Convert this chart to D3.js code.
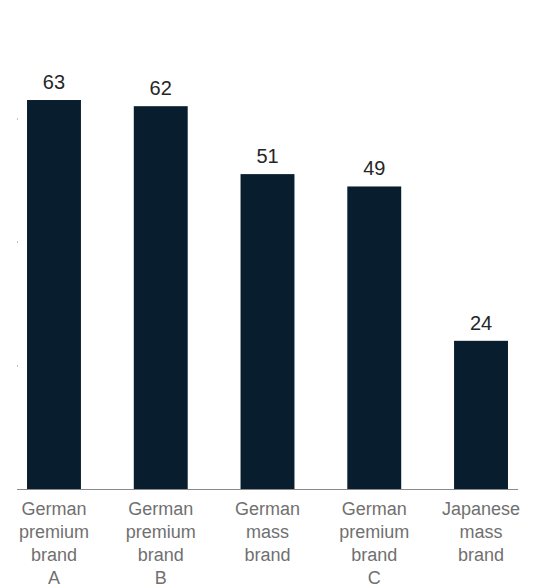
<!DOCTYPE html>
<html>
<head>
<meta charset="utf-8">
<script src="https://cdn.jsdelivr.net/npm/d3@7"></script>
<style>
  html, body { margin: 0; padding: 0; background: #fff; }
  svg { display: block; }
</style>
</head>
<body>
<svg id="chart" width="534" height="585"></svg>
<script>
// Brand categories (multi-line labels) and their values
const categories = [
  ["German", "premium", "brand", "A"],
  ["German", "premium", "brand", "B"],
  ["German", "mass", "brand"],
  ["German", "premium", "brand", "C"],
  ["Japanese", "mass", "brand"]
];
const values = [63, 62, 51, 49, 24];
const tickValues = [20, 40, 60];

const svg = d3.select("#chart");
const keys = categories.map(c => c.join(" "));

const x = d3.scaleBand()
  .domain(keys)
  .range([17, 518])
  .paddingInner(0.495)
  .paddingOuter(0.094);

const y = d3.scaleLinear()
  .domain([0, 70])
  .range([489, 56.8]);

// Tiny tick marks on the left edge
svg.append("g")
  .selectAll("rect")
  .data(tickValues)
  .join("rect")
  .attr("x", 17)
  .attr("y", d => Math.round(y(d)) - 0.5)
  .attr("width", 1)
  .attr("height", 1)
  .attr("fill", "#888");

// Bars
svg.append("g")
  .selectAll("rect")
  .data(values)
  .join("rect")
  .attr("x", (d, i) => x(keys[i]))
  .attr("y", d => y(d))
  .attr("width", x.bandwidth())
  .attr("height", d => y(0) - y(d))
  .attr("fill", "#081d2d");

// Value labels above bars
svg.append("g")
  .selectAll("text")
  .data(values)
  .join("text")
  .attr("x", (d, i) => x(keys[i]) + x.bandwidth() / 2)
  .attr("y", d => y(d) - 11)
  .attr("text-anchor", "middle")
  .attr("font-family", "'Liberation Sans', Arial, sans-serif")
  .attr("font-size", 20)
  .attr("fill", "#262626")
  .text(d => d);

// Baseline
svg.append("line")
  .attr("x1", 17).attr("x2", 518)
  .attr("y1", y(0) + 0.5).attr("y2", y(0) + 0.5)
  .attr("stroke", "#8a8a8a")
  .attr("stroke-width", 1);

// Category labels
const labels = svg.append("g")
  .selectAll("text")
  .data(categories)
  .join("text")
  .attr("text-anchor", "middle")
  .attr("font-family", "'Liberation Sans', Arial, sans-serif")
  .attr("font-size", 18)
  .attr("fill", "#707070");

labels.each(function(lines, i) {
  const cx = x(keys[i]) + x.bandwidth() / 2;
  d3.select(this).selectAll("tspan")
    .data(lines)
    .join("tspan")
    .attr("x", cx)
    .attr("y", (d, j) => 515 + j * 23)
    .text(d => d);
});
</script>
</body>
</html>
